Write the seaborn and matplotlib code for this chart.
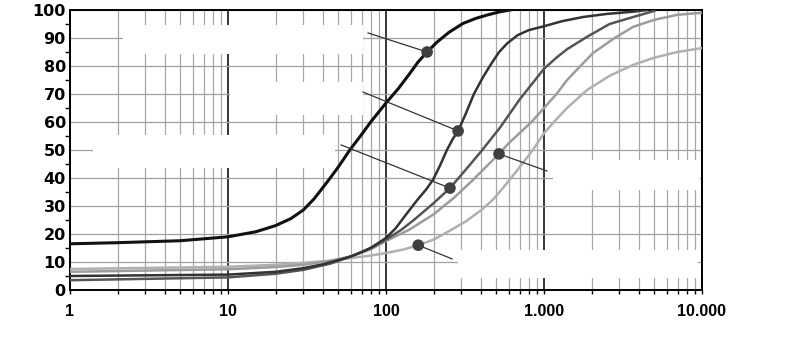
import matplotlib
matplotlib.use("Agg")
import matplotlib.pyplot as plt
from matplotlib.patches import Rectangle
from matplotlib.ticker import FixedLocator, FixedFormatter, LogLocator, NullFormatter, MultipleLocator
import seaborn as sns

# curve values (x on log scale)
c1_x = [1, 2, 5, 10, 15, 20, 25, 30, 35, 43, 50, 59, 70, 80, 100, 120, 140, 160, 182, 210, 250, 307, 370, 436, 520, 610]
c1_y = [16.5, 16.9, 17.6, 19, 20.8, 23, 25.5, 28.6, 32.5, 39, 44, 50, 55.5, 60, 66.8, 72, 77, 81.5, 85, 88.5, 92, 95.2, 97, 98.2, 99.3, 100]

c2_x = [1, 10, 20, 30, 40, 50, 60, 70, 80, 100, 115, 130, 157, 180, 198, 220, 243, 265, 286, 320, 360, 411,
        460, 520, 583, 680, 800, 1000, 1300, 1766, 2500, 3670, 4500]
c2_y = [5, 5.5, 6.5, 7.8, 9.2, 10.7, 12, 13.5, 15, 18.6, 22, 26, 32, 36, 39.3, 44.5, 50, 54, 56.8, 63, 70, 76,
        80.5, 85, 88, 91, 92.8, 94.2, 96, 97.5, 98.6, 99.4, 100]

c3_x = [1, 10, 20, 30, 45, 60, 80, 100, 125, 150, 200, 254, 320, 400, 527, 700, 850, 1000, 1200, 1400, 1870,
        2600, 3670, 5000]
c3_y = [3.5, 4.5, 5.8, 7.2, 9.5, 12, 15, 18, 21.5, 25, 31, 36.4, 43, 49.5, 58, 68, 74, 79, 83, 86, 90.4,
        95, 97.5, 99.7]

c4_x = [1, 10, 20, 30, 45, 60, 80, 100, 140, 200, 270, 355, 430, 519, 600, 700, 850, 1000, 1200, 1400, 1700,
        2040, 2800, 3670, 5000, 7000, 10000]
c4_y = [6.5, 7.4, 8.2, 9, 10.5, 12, 14.5, 17.5, 21.5, 27, 33, 39.3, 44, 48.6, 52.5, 56, 60.5, 65, 70, 75, 80,
        84.6, 90, 94, 96.5, 98.3, 99]

c5_x = [1, 10, 20, 30, 45, 60, 80, 100, 130, 160, 200, 250, 320, 400, 480, 560, 650, 750, 850, 1000, 1200,
        1400, 1870, 2600, 3670, 5000, 7000, 10000]
c5_y = [7.5, 8.3, 9, 9.7, 10.5, 11.4, 12.3, 13.2, 14.5, 16, 18, 21, 24.5, 28.5, 32.5, 37, 41.5, 46, 50, 56, 61,
        65, 71.4, 76.5, 80.4, 83, 85, 86.4]

# marked points and leader line starts
mark_x = [182, 286, 254, 519, 160]
mark_y = [85, 56.8, 36.4, 48.6, 16]
lead_x = [77, 71.5, 52, 1045, 262]
lead_y = [91.8, 70.7, 51.8, 42.5, 11.1]

xticks = [1, 10, 100, 1000, 10000]
xtick_labels = ["1", "10", "100", "1.000", "10.000"]
yticks = [0, 10, 20, 30, 40, 50, 60, 70, 80, 90, 100]

fig = plt.figure(figsize=(8, 3.6), dpi=100)
ax = fig.add_axes([70 / 800, 70 / 360, 632 / 800, 280 / 360])

curves = [
    (c5_x, c5_y, "#b0b0b0", 1.8),
    (c4_x, c4_y, "#9c9c9c", 1.8),
    (c3_x, c3_y, "#555555", 1.8),
    (c2_x, c2_y, "#333333", 1.8),
    (c1_x, c1_y, "#111111", 2.2),
]
for xs, ys, col, lw in curves:
    sns.lineplot(x=xs, y=ys, color=col, lw=lw, ax=ax, zorder=3)

for i in range(len(mark_x)):
    ax.plot([lead_x[i], mark_x[i]], [lead_y[i], mark_y[i]], color="#333333", lw=0.9, zorder=4)
sns.scatterplot(x=mark_x, y=mark_y, color="#404040", s=70, edgecolor="none", ax=ax, zorder=5)

ax.set_xscale("log")
ax.set_xlim(1, 10000)
ax.set_ylim(0, 100)

# blank label areas
boxes = [(2.16, 84.3, 71.5, 94.6), (10.3, 62.5, 71.5, 74.3), (1.40, 43.6, 47.5, 55.4),
         (1140, 35.7, 9700, 46.4), (286, 4.3, 9500, 14.3)]
for x0, y0, x1, y1 in boxes:
    ax.add_patch(Rectangle((x0, y0), x1 - x0, y1 - y0, facecolor="white", edgecolor="none", zorder=1.5))

ax.xaxis.set_major_locator(FixedLocator(xticks))
ax.xaxis.set_major_formatter(FixedFormatter(xtick_labels))
ax.xaxis.set_minor_locator(LogLocator(base=10, subs=range(2, 10)))
ax.xaxis.set_minor_formatter(NullFormatter())
ax.yaxis.set_major_locator(FixedLocator(yticks))
ax.yaxis.set_minor_locator(MultipleLocator(5))

ax.set_axisbelow(True)
ax.grid(which="major", axis="x", color="#000000", lw=1.1)
ax.grid(which="minor", axis="x", color="#a8a8a8", lw=0.9)
ax.grid(which="major", axis="y", color="#a0a0a0", lw=0.9)

for sp in ax.spines.values():
    sp.set_color("black")
    sp.set_linewidth(1.4)

ax.tick_params(axis="x", which="both", direction="out", length=3, width=1, pad=7)
ax.tick_params(axis="y", which="major", length=0, pad=3)
ax.tick_params(axis="y", which="minor", direction="out", length=3.5, width=1)

for lab in ax.get_xticklabels():
    lab.set_family(["Liberation Sans", "DejaVu Sans"])
    lab.set_fontweight("bold")
    lab.set_fontsize(11.5)
for lab in ax.get_yticklabels():
    lab.set_family(["DejaVu Sans"])
    lab.set_fontweight("bold")
    lab.set_fontsize(11.5)

ax.set_xlabel("")
ax.set_ylabel("")

fig.savefig("out.png", dpi=100, facecolor="white")
